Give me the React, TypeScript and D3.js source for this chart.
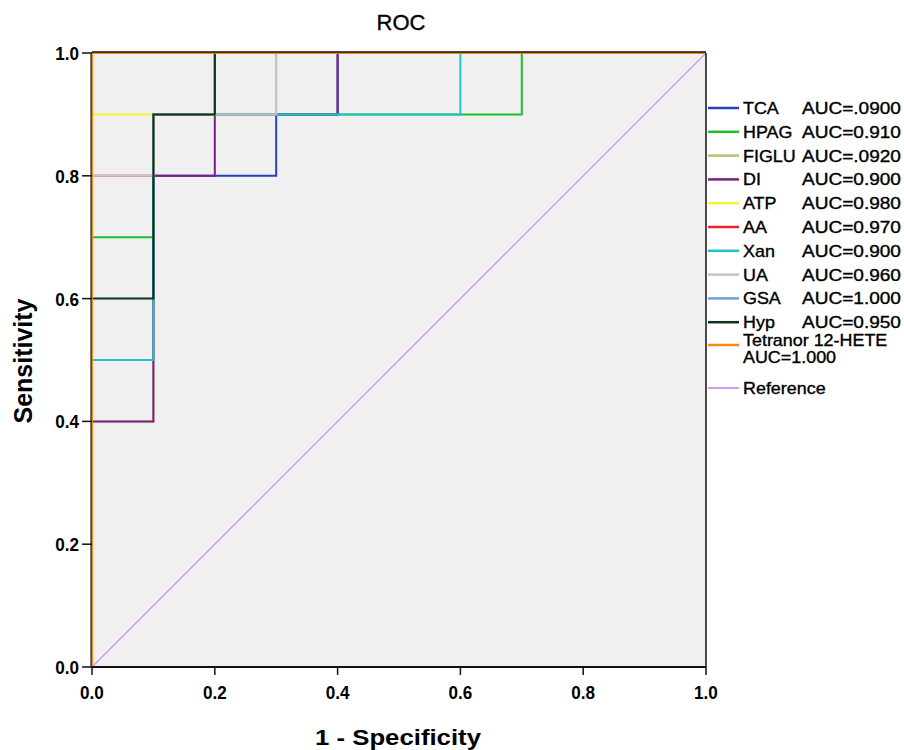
import React from "react";
import * as d3 from "d3";

type Pt = [number, number];

const seriesNames = ["TCA", "HPAG", "FIGLU", "DI", "ATP", "AA", "Xan", "UA", "GSA", "Hyp", "Tetranor 12-HETE"];
const aucLabels = ["AUC=.0900", "AUC=0.910", "AUC=.0920", "AUC=0.900", "AUC=0.980", "AUC=0.970", "AUC=0.900", "AUC=0.960", "AUC=1.000", "AUC=0.950", "AUC=1.000"];
const seriesColors = ["#2342b8", "#1fbf2a", "#c2bb7a", "#7a1f86", "#f6f23a", "#f2202a", "#22c3c8", "#c4c4c4", "#6e9fd8", "#0b3318", "#f58a10"];

const TCA: Pt[] = [[0, 0], [0, 0.5], [0.1, 0.5], [0.1, 0.8], [0.3, 0.8], [0.3, 0.9], [0.4, 0.9], [0.4, 1], [1, 1]];
const HPAG: Pt[] = [[0, 0], [0, 0.7], [0.1, 0.7], [0.1, 0.9], [0.7, 0.9], [0.7, 1], [1, 1]];
const FIGLU: Pt[] = [[0, 0], [0, 0.4], [0.1, 0.4], [0.1, 0.9], [0.3, 0.9], [0.3, 1], [1, 1]];
const DI: Pt[] = [[0, 0], [0, 0.4], [0.1, 0.4], [0.1, 0.8], [0.2, 0.8], [0.2, 0.9], [0.4, 0.9], [0.4, 1], [1, 1]];
const ATP: Pt[] = [[0, 0], [0, 0.9], [0.2, 0.9], [0.2, 1], [1, 1]];
const AA: Pt[] = [[0, 0], [0, 0.8], [0.1, 0.8], [0.1, 0.9], [0.2, 0.9], [0.2, 1], [1, 1]];
const Xan: Pt[] = [[0, 0], [0, 0.5], [0.1, 0.5], [0.1, 0.9], [0.6, 0.9], [0.6, 1], [1, 1]];
const UA: Pt[] = [[0, 0], [0, 0.8], [0.1, 0.8], [0.1, 0.9], [0.3, 0.9], [0.3, 1], [1, 1]];
const GSA: Pt[] = [[0, 0], [0, 1], [1, 1]];
const Hyp: Pt[] = [[0, 0], [0, 0.6], [0.1, 0.6], [0.1, 0.9], [0.2, 0.9], [0.2, 1], [1, 1]];
const Tetranor: Pt[] = [[0, 0], [0, 1], [1, 1]];
const Reference: Pt[] = [[0, 0], [1, 1]];

const seriesData = [TCA, HPAG, FIGLU, DI, ATP, AA, Xan, UA, GSA, Hyp, Tetranor];
const ticks = [0, 0.2, 0.4, 0.6, 0.8, 1.0];

const font = "'Liberation Sans', Arial, sans-serif";

function T(props: { x: number; y: number; sx?: number; size: number; anchor?: string; bold?: boolean; children: React.ReactNode }) {
  const { x, y, sx = 1, size, anchor = "start", bold = false, children } = props;
  return (
    <text
      transform={`translate(${x},${y}) scale(${sx},1)`}
      textAnchor={anchor as any}
      fontFamily={font}
      fontSize={size}
      fontWeight={bold ? "bold" : "normal"}
      fill="#000"
      stroke="#000"
      strokeWidth={bold ? 0 : 0.35}
    >
      {children}
    </text>
  );
}

export default function App() {
  const W = 904, H = 750;
  const x = d3.scaleLinear().domain([0, 1]).range([92, 706]);
  const y = d3.scaleLinear().domain([0, 1]).range([667, 53]);
  const line = d3.line<Pt>().x((d) => x(d[0])).y((d) => y(d[1]));
  const rowY = (i: number) => 108 + i * 23.8;
  return (
    <svg width={W} height={H} style={{ position: "absolute", left: 0, top: 0 }}>
      <rect x={0} y={0} width={W} height={H} fill="#fff" />
      <rect x={x(0)} y={y(1)} width={x(1) - x(0)} height={y(0) - y(1)} fill="#f0f0f0" />
      <T x={401} y={30} size={22} anchor="middle">ROC</T>
      {seriesData.map((d, i) => (
        <path key={i} d={line(d) || ""} fill="none" stroke={seriesColors[i]} strokeWidth={2} />
      ))}
      <path d={line(Reference) || ""} fill="none" stroke="#d49cf0" strokeWidth={1.5} />
      <line x1={x(0)} x2={x(1)} y1={y(1) - 1} y2={y(1) - 1} stroke="#111" strokeWidth={1.5} />
      <line x1={x(0)} x2={x(1)} y1={y(0)} y2={y(0)} stroke="#111" strokeWidth={2} />
      <line x1={x(0) - 1} x2={x(0) - 1} y1={y(1)} y2={y(0)} stroke="#222" strokeWidth={1.2} />
      <line x1={x(1)} x2={x(1)} y1={y(1)} y2={y(0)} stroke="#111" strokeWidth={1.5} />
      {ticks.map((t) => (
        <g key={"y" + t}>
          <line x1={x(0) - 10} x2={x(0)} y1={y(t)} y2={y(t)} stroke="#111" strokeWidth={1.5} />
          <T x={x(0) - 13} y={y(t) + 7} size={18} sx={0.95} anchor="end" bold>{t.toFixed(1)}</T>
        </g>
      ))}
      {ticks.map((t) => (
        <g key={"x" + t}>
          <line x1={x(t)} x2={x(t)} y1={y(0)} y2={y(0) + 8} stroke="#111" strokeWidth={1.5} />
          <T x={x(t)} y={y(0) + 32} size={18} sx={0.95} anchor="middle" bold>{t.toFixed(1)}</T>
        </g>
      ))}
      <T x={398} y={745} size={22} sx={1.17} anchor="middle" bold>1 - Specificity</T>
      <text transform="translate(32,361) rotate(-90)" textAnchor="middle" fontFamily={font} fontWeight="bold" fontSize={25}>Sensitivity</text>
      {seriesNames.map((n, i) => {
        const yy = i < 10 ? rowY(i) : rowY(10) - 1;
        return (
          <g key={n}>
            <line x1={708} x2={739} y1={yy} y2={yy} stroke={seriesColors[i]} strokeWidth={2.5} />
            {i < 10 ? (
              <>
                <T x={743} y={yy + 6} size={16} sx={1.12}>{n}</T>
                <T x={802} y={yy + 6} size={16} sx={1.19}>{aucLabels[i]}</T>
              </>
            ) : (
              <>
                <T x={743} y={yy + 1} size={16} sx={1.12}>{n}</T>
                <T x={743} y={yy + 18} size={16} sx={1.12}>{aucLabels[i]}</T>
              </>
            )}
          </g>
        );
      })}
      <line x1={708} x2={739} y1={388} y2={388} stroke="#d49cf0" strokeWidth={2} />
      <T x={743} y={394} size={16} sx={1.12}>Reference</T>
    </svg>
  );
}
